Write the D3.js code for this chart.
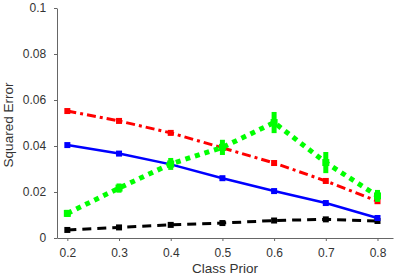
<!DOCTYPE html>
<html>
<head>
<meta charset="utf-8">
<script src="https://cdn.jsdelivr.net/npm/d3@7"></script>
<style>
  body { margin: 0; background: #fff; }
  svg { font-family: "Liberation Sans", Arial, sans-serif; }
  .axis path, .axis line { stroke: #666; }
  .axis text { fill: #333; font-size: 12px; }
</style>
</head>
<body>
<svg width="399" height="279"></svg>
<script>
// class prior values on the x axis
const priors = [0.2, 0.3, 0.4, 0.5, 0.6, 0.7, 0.8]
const xTicks = [0.2, 0.3, 0.4, 0.5, 0.6, 0.7, 0.8]
const yTicks = [0, 0.02, 0.04, 0.06, 0.08, 0.1]

// squared error for each method
const redVals   = [0.0552, 0.0509, 0.0457, 0.0392, 0.0326, 0.0248, 0.0160]
const blueVals  = [0.0404, 0.0367, 0.0320, 0.0260, 0.0204, 0.0152, 0.0087]
const blackVals = [0.0035, 0.0046, 0.0057, 0.0065, 0.0076, 0.0081, 0.0074]
const greenVals = [0.0107, 0.0217, 0.0322, 0.0394, 0.0502, 0.0328, 0.0183]
const greenErr  = [0.0015, 0.0020, 0.0026, 0.0033, 0.0046, 0.0046, 0.0026]

const svg = d3.select('svg')

const x = d3.scaleLinear().domain([0.18, 0.83]).range([57, 393])
const y = d3.scaleLinear().domain([0, 0.1]).range([238, 8])

svg.append('g')
    .attr('class', 'axis')
    .attr('transform', 'translate(0,238)')
    .call(d3.axisBottom(x).tickValues(xTicks).tickSize(3).tickSizeOuter(0).tickFormat(d3.format('.1f')))
    .call(g => g.selectAll('text').attr('dy', '1.1em'))

svg.append('g')
    .attr('class', 'axis')
    .attr('transform', 'translate(57,0)')
    .call(d3.axisLeft(y).tickValues(yTicks).tickSize(3).tickSizeOuter(0).tickFormat(d3.format('~g')))
    .call(g => g.selectAll('text').attr('dx', '-0.4em'))

svg.append('text')
    .attr('x', 225).attr('y', 273)
    .attr('text-anchor', 'middle')
    .attr('fill', '#333')
    .style('font-size', '13.5px')
    .text('Class Prior')

svg.append('text')
    .attr('transform', 'translate(13,125) rotate(-90)')
    .attr('text-anchor', 'middle')
    .attr('fill', '#333')
    .style('font-size', '13.5px')
    .text('Squared Error')

const line = d3.line().x((d, i) => x(priors[i])).y(d => y(d))

const series = [
  {vals: blackVals, color: '#000', width: 3, dash: '9,6'},
  {vals: blueVals, color: '#0000ff', width: 2.5, dash: null},
  {vals: redVals, color: '#ff0000', width: 3, dash: '9,4,3,4'},
]

series.forEach(s => {
  svg.append('path')
    .attr('d', line(s.vals))
    .attr('fill', 'none')
    .attr('stroke', s.color)
    .attr('stroke-width', s.width)
    .attr('stroke-dasharray', s.dash)
  svg.selectAll(null).data(s.vals).enter().append('rect')
    .attr('x', (d, i) => x(priors[i]) - 3)
    .attr('y', d => y(d) - 3)
    .attr('width', 6).attr('height', 6)
    .attr('fill', s.color)
})

// green dotted line with error bars
svg.append('path')
    .attr('d', line(greenVals))
    .attr('fill', 'none')
    .attr('stroke', '#00ff00')
    .attr('stroke-width', 5)
    .attr('stroke-dasharray', '5,5')

svg.selectAll(null).data(greenVals).enter().append('line')
    .attr('x1', (d, i) => x(priors[i])).attr('x2', (d, i) => x(priors[i]))
    .attr('y1', (d, i) => y(d - greenErr[i])).attr('y2', (d, i) => y(d + greenErr[i]))
    .attr('stroke', '#00ff00')
    .attr('stroke-width', 5)

svg.selectAll(null).data(greenVals).enter().append('rect')
    .attr('x', (d, i) => x(priors[i]) - 3.5)
    .attr('y', d => y(d) - 3.5)
    .attr('width', 7).attr('height', 7)
    .attr('fill', '#00ff00')
</script>
</body>
</html>
